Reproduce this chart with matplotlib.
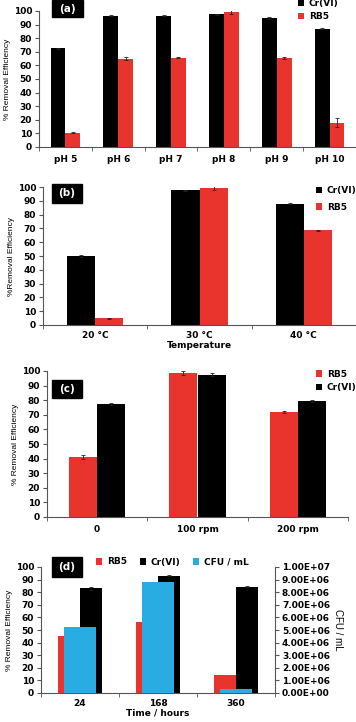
import numpy as np
import matplotlib
matplotlib.use("Agg")
import matplotlib.pyplot as plt
from matplotlib.ticker import FormatStrFormatter

plt.rcParams['font.family'] = ['DejaVu Sans']
plt.rcParams['font.weight'] = 'bold'
plt.rcParams['font.size'] = 6.5

RED = '#e8342c'
BLACK = '#000000'
CYAN = '#28ace2'
YLAB_FONT = ['Liberation Sans Narrow', 'Liberation Sans', 'DejaVu Sans']

# (a) pH
ph_labels = ['pH 5', 'pH 6', 'pH 7', 'pH 8', 'pH 9', 'pH 10']
ph_cr = [72.5, 96.5, 96.5, 97.5, 95, 87]
ph_cr_err = [0.5, 0.3, 0.5, 0.4, 0.6, 0.4]
ph_rb5 = [10.5, 65, 65.5, 99, 65.5, 18]
ph_rb5_err = [0.5, 1.2, 0.4, 1.5, 0.8, 3]

# (b) temperature
temp_labels = ['20 °C', '30 °C', '40 °C']
temp_cr = [50, 97.5, 88]
temp_cr_err = [0.6, 0.4, 0.3]
temp_rb5 = [5, 99, 68.5]
temp_rb5_err = [0.3, 1.5, 0.6]

# (c) agitation
rpm_labels = ['0', '100 rpm', '200 rpm']
rpm_rb5 = [41, 98.5, 72]
rpm_rb5_err = [1.5, 1.2, 0.6]
rpm_cr = [77.5, 97.5, 79.5]
rpm_cr_err = [0.5, 1.2, 0.8]

# (d) time
time_labels = ['24', '168', '360']
time_rb5 = [45, 56, 14.5]
time_cr = [83, 93, 84.5]
time_cr_err = [1.0, 0.4, 0.5]
time_cfu = [5.2e6, 8.8e6, 0.3e6]

W, H = 356, 722
fig = plt.figure(figsize=(W / 100, H / 100), dpi=100)


def make_ax(left, right, top, bottom):
    return fig.add_axes([left / W, 1 - bottom / H, (right - left) / W, (bottom - top) / H])


def style(ax, labels):
    n = len(labels)
    ax.set_xlim(-0.5, n - 0.5)
    ax.set_ylim(0, 100)
    ax.set_yticks(range(0, 101, 10))
    ax.set_xticks(range(n))
    ax.set_xticklabels(labels, fontweight='bold')
    ax.set_xticks(np.arange(-0.5, n, 1.0), minor=True)
    ax.tick_params(axis='x', which='major', length=0, pad=6)
    ax.tick_params(axis='x', which='minor', length=3, direction='out', color='#555555')
    ax.tick_params(axis='y', length=3, direction='out', color='#555555', pad=2)
    for s in ['top', 'right']:
        ax.spines[s].set_visible(False)
    for s in ['left', 'bottom']:
        ax.spines[s].set_color('#555555')
        ax.spines[s].set_linewidth(0.8)
    for t in ax.get_yticklabels():
        t.set_fontweight('bold')


def ylab(ax, text):
    ax.set_ylabel(text, fontweight='normal', fontsize=6, family=YLAB_FONT, labelpad=1.5)


def tag(x0, x1, y0, y1, text):
    fig.patches.append(plt.Rectangle((x0 / W, 1 - y1 / H), (x1 - x0) / W, (y1 - y0) / H,
                                     transform=fig.transFigure, color='black', zorder=5))
    fig.text((x0 + x1) / 2 / W, 1 - (y0 + y1) / 2 / H, text, color='white', ha='center',
             va='center', fontsize=7.5, fontweight='bold', zorder=6)


ekw = dict(elinewidth=0.6, capsize=1.2, capthick=0.6, ecolor='#222222')
bw = 0.28
leg_kw = dict(frameon=False, handlelength=0.7, handleheight=0.7, handletextpad=0.5,
              fontsize=6.5, bbox_transform=fig.transFigure, loc='center left')

# ---- (a)
ax = make_ax(39, 356, 11, 147)
x = np.arange(len(ph_labels))
ax.bar(x - bw / 2, ph_cr, bw, color=BLACK, yerr=ph_cr_err, error_kw=ekw, label='Cr(VI)')
ax.bar(x + bw / 2, ph_rb5, bw, color=RED, yerr=ph_rb5_err, error_kw=ekw, label='RB5')
style(ax, ph_labels)
ylab(ax, '% Removal Efficiency')
ax.legend(bbox_to_anchor=(290 / W, 1 - 10 / H), labelspacing=0.5, **leg_kw)
tag(52, 83, 0, 17, '(a)')

# ---- (b)
ax = make_ax(43, 356, 187, 325)
x = np.arange(len(temp_labels))
bw2 = 0.27
ax.bar(x - bw2 / 2, temp_cr, bw2, color=BLACK, yerr=temp_cr_err, error_kw=ekw, label='Cr(VI)')
ax.bar(x + bw2 / 2, temp_rb5, bw2, color=RED, yerr=temp_rb5_err, error_kw=ekw, label='RB5')
style(ax, temp_labels)
ax.tick_params(axis='x', which='major', pad=4)
ax.set_xlabel('Temperature', fontweight='bold', fontsize=6.5, labelpad=1)
ylab(ax, '%Removal Efficiency')
ax.legend(bbox_to_anchor=(308 / W, 1 - 199 / H), labelspacing=0.8, **leg_kw)
tag(52, 82, 184, 203, '(b)')

# ---- (c)
ax = make_ax(47, 348, 371, 517)
x = np.arange(len(rpm_labels))
ax.bar(x - bw / 2, rpm_rb5, bw, color=RED, yerr=rpm_rb5_err, error_kw=ekw, label='RB5')
ax.bar(x + bw / 2, rpm_cr, bw, color=BLACK, yerr=rpm_cr_err, error_kw=ekw, label='Cr(VI)')
style(ax, rpm_labels)
ylab(ax, '% Removal Efficiency')
ax.legend(bbox_to_anchor=(308 / W, 1 - 381 / H), labelspacing=0.5, **leg_kw)
tag(52, 82, 380, 398, '(c)')

# ---- (d)
ax = make_ax(41, 275, 567, 693)
x = np.arange(len(time_labels))
h1 = ax.bar(x - bw / 2, time_rb5, bw, color=RED, label='RB5')
h2 = ax.bar(x + bw / 2, time_cr, bw, color=BLACK, yerr=time_cr_err, error_kw=ekw, label='Cr(VI)')
style(ax, time_labels)
ax.tick_params(axis='x', which='major', pad=4)
ax.set_xlabel('Time / hours', fontweight='bold', fontsize=6.5, labelpad=1)
ylab(ax, '% Removal Efficiency')
ax2 = ax.twinx()
h3 = ax2.bar(x, time_cfu, 0.4, color=CYAN, label='CFU / mL')
ax2.set_ylim(0, 1e7)
ax2.set_yticks(np.arange(0, 1.01e7, 1e6))
ax2.yaxis.set_major_formatter(FormatStrFormatter('%.2E'))
ax2.tick_params(axis='y', length=3, direction='out', color='#555555', pad=2)
for s in ['top', 'left', 'bottom']:
    ax2.spines[s].set_visible(False)
ax2.spines['right'].set_color('#555555')
ax2.spines['right'].set_linewidth(0.8)
for t in ax2.get_yticklabels():
    t.set_fontweight('bold')
ax2.set_ylabel('CFU / mL', fontweight='normal', fontsize=7, family=YLAB_FONT,
               rotation=270, labelpad=9)
fig.legend([h1, h2, h3], ['RB5', 'Cr(VI)', 'CFU / mL'], ncol=3,
           bbox_to_anchor=(88 / W, 1 - 562 / H), columnspacing=1.4, **leg_kw)
tag(52, 82, 557, 577, '(d)')

fig.savefig('out.png', dpi=100, facecolor='white')
